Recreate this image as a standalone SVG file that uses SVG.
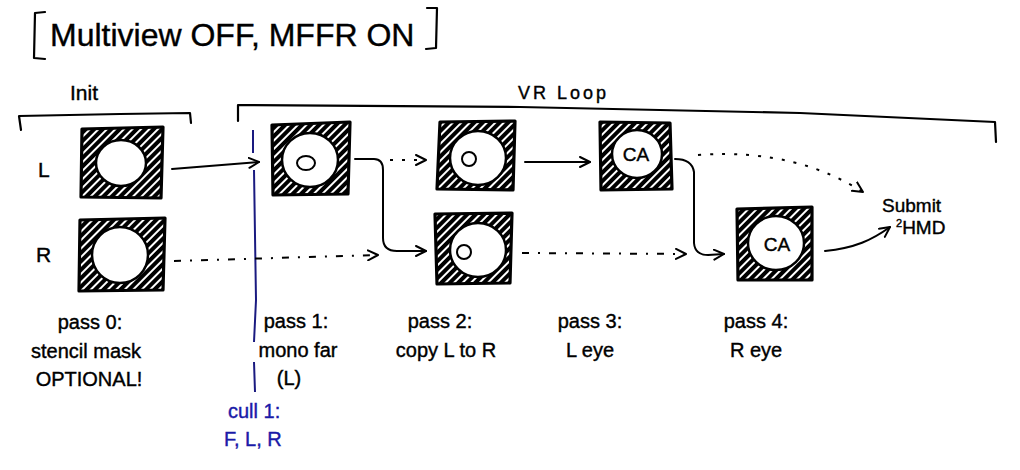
<svg xmlns="http://www.w3.org/2000/svg" width="1020" height="470" viewBox="0 0 1020 470">
<defs>
<pattern id="hatch" patternUnits="userSpaceOnUse" width="6" height="6" patternTransform="rotate(45)">
<rect width="6" height="6" fill="#fff"/>
<line x1="2" y1="0" x2="2" y2="6" stroke="#000" stroke-width="4"/>
</pattern>
<marker id="arr" viewBox="0 0 12 12" refX="11" refY="6" markerWidth="12" markerHeight="12" markerUnits="userSpaceOnUse" orient="auto">
<path d="M1,1 L11,6 L1,11" fill="none" stroke="#000" stroke-width="2" stroke-linecap="round" stroke-linejoin="round"/>
</marker>
</defs>
<style>
.t{font-family:"Liberation Sans",Arial,sans-serif;fill:#000;stroke:#000;stroke-width:0.4}
.lbl{font-size:20px}
.blue{fill:#1a1aa8;stroke:#1a1aa8}
.sq{fill:url(#hatch);stroke:#000;stroke-width:3.2;stroke-linejoin:round}
.ci{fill:#fff;stroke:#000;stroke-width:2.5}
.in{fill:none;stroke:#000;stroke-width:2}
.ca{font-size:19px;text-anchor:middle}
.br{fill:none;stroke:#000;stroke-width:2.2;stroke-linecap:round;stroke-linejoin:round}
.solid{fill:none;stroke:#000;stroke-width:2;stroke-linecap:round;marker-end:url(#arr)}
.dot{fill:none;stroke:#000;stroke-width:2;stroke-dasharray:3 9;marker-end:url(#arr)}
.dd{fill:none;stroke:#000;stroke-width:2;stroke-dasharray:7 9 2 9;marker-end:url(#arr)}
</style>

<!-- title -->
<g id="title">
<path class="br" d="M45,12 L35,13 L34,58 L45,59"/>
<text class="t" x="50" y="46" font-size="32">Multiview OFF, MFFR ON</text>
<path class="br" d="M427,8 L437,8 L436,48 L426,49"/>
</g>

<!-- brackets -->
<g id="init-bracket">
<path class="br" d="M21,130 L19,116 L120,114 L190,113 L191,123"/>
<text class="t" x="70" y="100" font-size="21">Init</text>
</g>
<g id="vr-bracket">
<path class="br" d="M238,121 L238,105 L520,107 L800,113 L995,122 L996,142"/>
<text class="t" x="518" y="99" font-size="18" letter-spacing="3">VR Loop</text>
</g>

<text class="t" x="38" y="177" font-size="21">L</text>
<text class="t" x="36" y="262" font-size="21">R</text>

<!-- cull line -->
<g id="cull">
<path d="M253,130 L253,153 M254,170 L256,300 L254,342 M254,362 L255,392" fill="none" stroke="#1a1a80" stroke-width="2"/>
<text class="t lbl blue" x="228" y="418">cull 1:</text>
<text class="t lbl blue" x="224" y="446">F, L, R</text>
</g>

<!-- nodes -->
<g id="init-L">
<path class="sq" d="M82,129 L163,127 L161,198 L81,197 Z"/>
<ellipse class="ci" cx="121" cy="163" rx="25" ry="23"/>
</g>
<g id="init-R">
<path class="sq" d="M80,220 L165,218 L163,290 L79,291 Z"/>
<ellipse class="ci" cx="120" cy="255" rx="28" ry="28"/>
</g>
<g id="pass1">
<path class="sq" d="M272,125 L350,122 L348,194 L273,195 Z"/>
<ellipse class="ci" cx="310" cy="160" rx="28" ry="27"/>
<ellipse class="in" cx="306" cy="163" rx="9" ry="7"/>
</g>
<g id="pass2-top">
<path class="sq" d="M440,122 L515,121 L513,190 L437,189 Z"/>
<ellipse class="ci" cx="478" cy="158" rx="28" ry="27"/>
<ellipse class="in" cx="469" cy="159" rx="7" ry="7"/>
</g>
<g id="pass2-bottom">
<path class="sq" d="M435,214 L512,213 L510,283 L437,284 Z"/>
<ellipse class="ci" cx="478" cy="250" rx="28" ry="27"/>
<ellipse class="in" cx="464" cy="252" rx="7" ry="7"/>
</g>
<g id="pass3">
<path class="sq" d="M600,122 L670,123 L672,189 L601,190 Z"/>
<ellipse class="ci" cx="637" cy="154" rx="25" ry="24"/>
<text class="t ca" x="636" y="161">CA</text>
</g>
<g id="pass4">
<path class="sq" d="M737,209 L812,207 L812,280 L738,280 Z"/>
<ellipse class="ci" cx="776" cy="243" rx="28" ry="27"/>
<text class="t ca" x="777" y="251">CA</text>
</g>
<g id="submit">
<text class="t" x="882" y="212" font-size="19">Submit</text>
<text class="t" x="896" y="234" font-size="19"><tspan font-size="11" dy="-7">2</tspan><tspan dy="7">HMD</tspan></text>
</g>

<!-- connectors -->
<g id="connectors">
<path class="solid" d="M172,169 L259,162"/>
<path class="dd" d="M174,261 L378,255"/>
<path class="dot" d="M390,160 L426,160"/>
<path class="solid" d="M355,159 L374,159 Q383,159 383,170 L383,238 Q383,251 397,251 L426,251"/>
<path class="solid" d="M525,162 L590,162"/>
<path class="dd" d="M522,253 L686,254"/>
<path class="solid" d="M675,159 Q692,159 694,172 L694,243 Q695,255 708,255 L724,254"/>
<path class="dot" d="M698,155 C770,150 822,166 863,192"/>
<path class="solid" d="M825,251 C855,248 872,240 890,227"/>
</g>

<!-- pass labels -->
<g id="labels" class="t lbl" text-anchor="middle">
<text x="90" y="329">pass 0:</text>
<text x="86" y="358">stencil mask</text>
<text x="89" y="386">OPTIONAL!</text>
<text x="296" y="328">pass 1:</text>
<text x="298" y="357">mono far</text>
<text x="289" y="385">(L)</text>
<text x="440" y="328">pass 2:</text>
<text x="446" y="357">copy L to R</text>
<text x="590" y="328">pass 3:</text>
<text x="590" y="357">L eye</text>
<text x="756" y="328">pass 4:</text>
<text x="756" y="357">R eye</text>
</g>
</svg>
